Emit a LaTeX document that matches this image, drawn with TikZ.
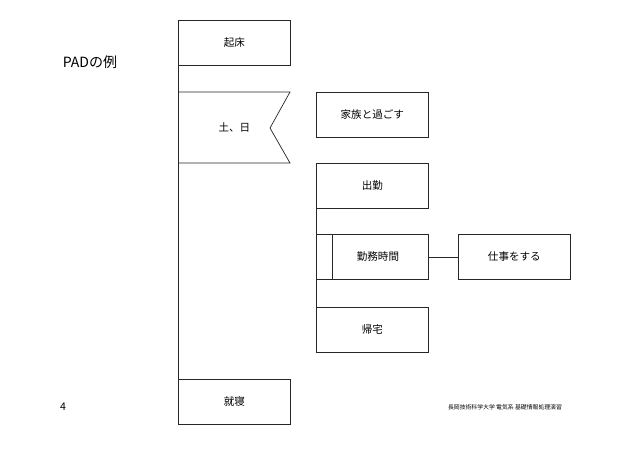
\documentclass[tikz,border=0pt]{standalone}
\usepackage{fontspec}
\setmainfont{Noto Sans CJK JP}
\begin{document}
\begin{tikzpicture}[x=0.03cm,y=-0.03cm,
  box/.style={draw=black!85, line width=0.6pt, minimum width=112*0.03cm, minimum height=45*0.03cm, inner sep=0pt, font=\small, anchor=north west},
  ln/.style={draw=black!85, line width=0.6pt}]
\useasboundingbox (0,0) rectangle (638,451);
% Title and page
\node[font=\large] (title) at (90,62) {PADの例};
\node[font=\small] (page) at (63,407) {4};
\node[font=\fontsize{5}{6}\selectfont] (foot) at (505,407) {長岡技術科学大学 電気系 基礎情報処理演習};

% Main sequence
\node[box] (wake) at (178,20) {起床};
\coordinate (spine) at (178,380);
\draw[ln] (wake.south west) -- (spine);

% Selection
\node[box, minimum height=71*0.03cm, draw=none, text width=70*0.03cm, align=center] (sel) at (178,92) {土、日};
\draw[ln] (178,92) -- (290,92) -- (270,128) -- (290,163) -- (178,163);
\node[box] (family) at (316,92) {家族と過ごす};
\node[box] (go) at (316,163) {出勤};
\node[box] (work) at (316,234) {\hspace*{16\pgflinewidth}勤務時間};
\draw[ln] ([xshift=16*0.03cm]work.north west) -- ([xshift=16*0.03cm]work.south west);
\node[box] (job) at (458,234) {仕事をする};
\draw[ln] (work) -- (job);
\node[box] (home) at (316,307) {帰宅};
\draw[ln] (go.north west) -- (home.south west);

\node[box] (sleep) at (178,379) {就寝};
\end{tikzpicture}
\end{document}
